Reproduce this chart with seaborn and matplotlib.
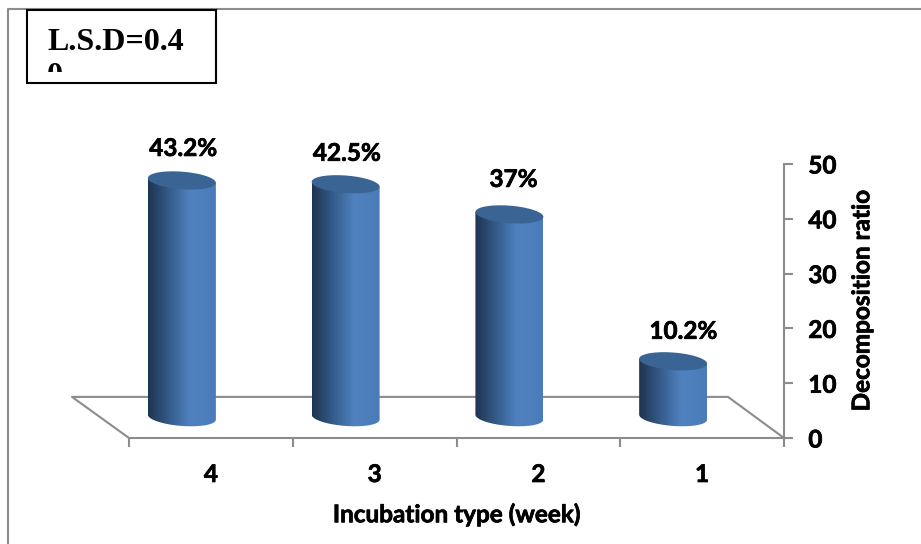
"""Decomposition ratio by incubation time, fake 3D cylinders like the office chart"""
import numpy as np
import pandas as pd
import matplotlib
matplotlib.use("Agg")
import matplotlib.pyplot as plt
import matplotlib.patheffects as pe
from matplotlib.colors import LinearSegmentedColormap
from matplotlib.lines import Line2D
from matplotlib.patches import PathPatch, Rectangle
from matplotlib.path import Path
import seaborn as sns

weeks = ["4", "3", "2", "1"]
ratios = [43.2, 42.5, 37, 10.2]
bar_labels = ["43.2%", "42.5%", "37%", "10.2%"]
y_ticks = [0, 10, 20, 30, 40, 50]
x_title = "Incubation type (week)"
y_title = "Decomposition ratio"
box_text = "L.S.D=0.4\n0"

W, H = 921, 544
GRAY = "#8c8c8c"
FS = 17.5

# labels were moved by hand in the original, offsets in pixels from the bar top
nudge_x = [1, 1, 4, 10]
nudge_y = [32, 31, 35, 30]

sns.set_style("white", {"text.color": "black", "axes.labelcolor": "black",
                        "xtick.color": "black", "ytick.color": "black"})
plt.rcParams["font.family"] = ["Lato", "DejaVu Sans"]
plt.rcParams["font.weight"] = "bold"

# Lato bold comes out lighter than the original, thicken it a little
heavy = [pe.withStroke(linewidth=0.5, foreground="black")]


def fig_x(px):
    return px / W


def fig_y(px):
    return 1 - px / H


fig = plt.figure(figsize=(W / 100, H / 100), dpi=100)
ax = fig.add_axes([fig_x(129), fig_y(438), (784 - 129) / W, (438 - 164) / H])

df = pd.DataFrame({"week": weeks, "ratio": ratios})
sns.barplot(data=df, x="week", y="ratio", order=weeks, width=0.415, color="#4f81bd", ax=ax)

ax.set_xlim(-0.5, 3.5)
ax.set_ylim(0, 50)

# 3D depth, in data units
dx = -0.177
dy = 3.8
ell_b = 1.6
ell_tilt = -0.45

cmap = LinearSegmentedColormap.from_list(
    "cyl", [(0, "#1f3450"), (0.3, "#335a88"), (0.62, "#5082c0"), (1, "#4b7cb9")]
)
grad = np.linspace(0, 1, 200).reshape(1, -1)

t = np.linspace(0, 2 * np.pi, 80)
half = np.linspace(np.pi, 2 * np.pi, 40)

for i, bar in enumerate(list(ax.patches)):
    x0, w, h = bar.get_x(), bar.get_width(), bar.get_height()
    bar.set_visible(False)
    cx = x0 + w / 2 + dx
    top = h + dy
    bottom = dy

    # body: top edge straight across, lower edge is front half of the ellipse
    bx = cx + w / 2 * np.cos(half)
    by = bottom + ell_b * np.sin(half) + ell_tilt * np.cos(half)
    xs = np.r_[cx - w / 2, bx, cx + w / 2, cx - w / 2]
    ys = np.r_[top - ell_tilt, by, top + ell_tilt, top - ell_tilt]
    body = PathPatch(Path(np.c_[xs, ys]), fc="none", ec="none", transform=ax.transData)
    ax.add_patch(body)
    im = ax.imshow(grad, cmap=cmap, aspect="auto", zorder=3,
                   extent=[cx - w / 2, cx + w / 2, bottom - 3, top + 3])
    im.set_clip_path(body)

    ex = cx + w / 2 * np.cos(t)
    ey = top + ell_b * np.sin(t) + ell_tilt * np.cos(t)
    ax.add_patch(PathPatch(Path(np.c_[ex, ey]), fc="#3a6493", ec="none", zorder=4))

    ax.annotate(bar_labels[i], (cx, top), xytext=(nudge_x[i], nudge_y[i]), textcoords="offset pixels",
                ha="center", va="center", fontsize=FS, fontweight="bold", color="black",
                path_effects=heavy)

ax.set_xlim(-0.5, 3.5)
ax.set_ylim(0, 50)

# floor
floor_x = [-0.5, -0.5 - 57 / 163.75, 3.5 - 56 / 163.75, 3.5]
floor_y = [0, 7.5, 7.5, 0]
ax.plot(floor_x, floor_y, color=GRAY, lw=1.5, clip_on=False, zorder=2)

# axes
sns.despine(ax=ax, left=True, right=False, top=True, bottom=False)
for side in ["right", "bottom"]:
    ax.spines[side].set_color(GRAY)
    ax.spines[side].set_linewidth(1.5)

ax.yaxis.tick_right()
ax.yaxis.set_label_position("right")
ax.set_yticks(y_ticks)
ax.tick_params(axis="y", which="major", length=6.5, width=1.5, color=GRAY, right=True,
               pad=11, labelsize=FS, labelcolor="black")
ax.set_xticks(np.arange(-0.5, 4, 1))
ax.set_xticklabels([])
ax.set_xticks(range(len(weeks)), weeks, minor=True)
ax.tick_params(axis="x", which="major", length=6.5, width=1.5, color=GRAY, bottom=True)
ax.tick_params(axis="x", which="minor", length=0, pad=18, labelsize=FS, bottom=True,
               labelcolor="black")
ax.set_xlabel(x_title, fontsize=FS, fontweight="bold", labelpad=12, path_effects=heavy)
ax.set_ylabel(y_title, fontsize=FS, fontweight="bold", labelpad=10, path_effects=heavy)
for tick_label in ax.get_yticklabels() + ax.get_xticklabels(minor=True):
    tick_label.set_path_effects(heavy)

# outer chart frame, only top and left show
fig.add_artist(Line2D([fig_x(8), fig_x(8), 1], [0, fig_y(9), fig_y(9)], color=GRAY, lw=1.5))

# L.S.D box, second line is cut off by the box
fig.add_artist(Rectangle((fig_x(27), fig_y(83)), 189 / W, 73 / H, fc="white", ec="black",
                         lw=1.5, transform=fig.transFigure, zorder=5))
clip = Rectangle((fig_x(27), fig_y(72)), 189 / W, 62 / H, transform=fig.transFigure)
txt = fig.text(fig_x(47), fig_y(28), box_text, family="Liberation Serif", fontweight="bold",
               fontsize=23, color="black", va="top", ha="left", linespacing=1.25, zorder=6)
txt.set_clip_path(clip)

fig.savefig("out.png", dpi=100)
